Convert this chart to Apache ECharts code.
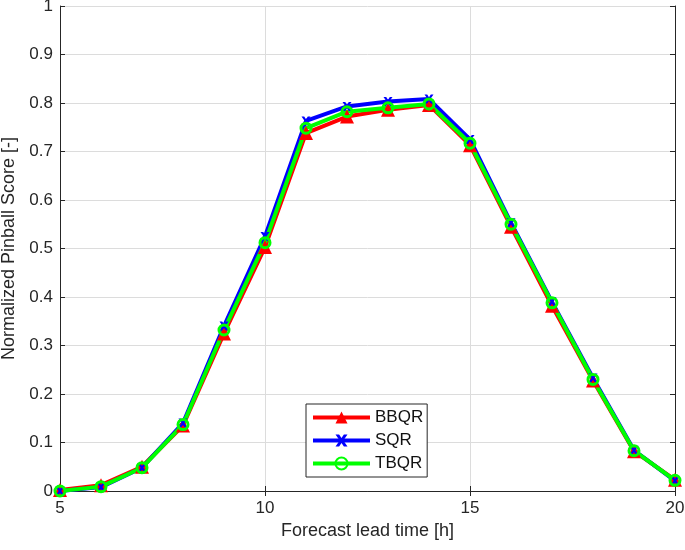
<!DOCTYPE html>
<html>
<head>
<meta charset="utf-8">
<script src="https://cdn.jsdelivr.net/npm/echarts@6/dist/echarts.min.js"></script>
<style>
  html, body { margin: 0; padding: 0; background: #fff; }
  #chart { width: 685px; height: 550px; }
</style>
</head>
<body>
<div id="chart"></div>
<script>
// lead times [h]
const leadTimes = [5, 6, 7, 8, 9, 10, 11, 12, 13, 14, 15, 16, 17, 18, 19, 20];
// normalized pinball score per method
const bbqr = [0.002, 0.012, 0.05, 0.135, 0.325, 0.503, 0.738, 0.772, 0.786, 0.796, 0.713, 0.545, 0.382, 0.228, 0.082, 0.023];
const sqr = [0.0, 0.008, 0.048, 0.14, 0.34, 0.525, 0.763, 0.793, 0.803, 0.808, 0.725, 0.553, 0.39, 0.233, 0.084, 0.021];
const tbqr = [0.0, 0.009, 0.048, 0.137, 0.332, 0.512, 0.748, 0.782, 0.79, 0.798, 0.717, 0.55, 0.388, 0.23, 0.083, 0.022];

const pair = (ys) => leadTimes.map((x, i) => [x, ys[i]]);

const chart = echarts.init(document.getElementById("chart"));
const font = "Liberation Sans, Arial, sans-serif";
const txt = "#262626";

const axisCommon = {
  axisLine: { show: true, lineStyle: { color: "#262626", width: 1 } },
  axisTick: { show: true, inside: true, length: 5, lineStyle: { color: "#262626" } },
};

chart.setOption({
  animation: false,
  backgroundColor: "#fff",
  grid: { left: 60, right: 10, top: 6, bottom: 59, outerBoundsMode: "none", containLabel: false },
  xAxis: [
    {
      ...axisCommon,
      type: "value",
      min: 5, max: 20, interval: 5,
      name: "Forecast lead time [h]",
      nameLocation: "middle",
      nameGap: 31,
      nameTextStyle: { fontFamily: font, fontSize: 18, color: txt },
      axisLabel: { fontFamily: font, fontSize: 17, color: txt, margin: 9 },
      splitLine: { show: true, lineStyle: { color: "#dcdcdc", width: 1 } },
    },
    {
      ...axisCommon,
      type: "value", position: "top",
      min: 5, max: 20, interval: 5,
      axisLabel: { show: false },
      splitLine: { show: false },
    },
  ],
  yAxis: [
    {
      ...axisCommon,
      type: "value",
      min: 0, max: 1, interval: 0.1,
      name: "Normalized Pinball Score [-]",
      nameLocation: "middle",
      nameGap: 40,
      nameTextStyle: { fontFamily: font, fontSize: 18, color: txt },
      axisLabel: {
        fontFamily: font, fontSize: 17, color: txt, margin: 7,
        formatter: (v) => String(+v.toFixed(1)),
      },
      splitLine: { show: true, lineStyle: { color: "#dcdcdc", width: 1 } },
    },
    {
      ...axisCommon,
      type: "value", position: "right",
      min: 0, max: 1, interval: 0.1,
      axisLabel: { show: false },
      splitLine: { show: false },
    },
  ],
  legend: {
    orient: "vertical",
    left: 306, top: 404,
    padding: [5, 4, 5, 5],
    itemWidth: 57, itemHeight: 15, itemGap: 6,
    borderColor: "#262626", borderWidth: 1,
    backgroundColor: "#fff",
    textStyle: { fontFamily: font, fontSize: 17, color: "#111" },
    data: [
      { name: "BBQR", lineStyle: { width: 4 } },
      { name: "SQR", lineStyle: { width: 4 } },
      { name: "TBQR", lineStyle: { width: 4 } },
    ],
  },
  series: [
    {
      name: "BBQR", type: "line",
      data: pair(bbqr),
      symbol: "triangle", symbolSize: 14,
      lineStyle: { color: "#ff0000", width: 4 },
      itemStyle: { color: "#ff0000" },
    },
    {
      name: "SQR", type: "line",
      data: pair(sqr),
      symbol: "path://M0,0 L3,0 L5,3 L7,0 L10,0 L6.5,5 L10,10 L7,10 L5,7 L3,10 L0,10 L3.5,5 Z",
      symbolSize: 9,
      lineStyle: { color: "#0000ff", width: 4 },
      itemStyle: { color: "#0000ff" },
    },
    {
      name: "TBQR", type: "line",
      data: pair(tbqr),
      symbol: "circle", symbolSize: 10,
      lineStyle: { color: "#00ff00", width: 4 },
      itemStyle: { color: "rgba(0,0,0,0)", borderColor: "#00ff00", borderWidth: 3 },
    },
  ],
});
</script>
</body>
</html>
